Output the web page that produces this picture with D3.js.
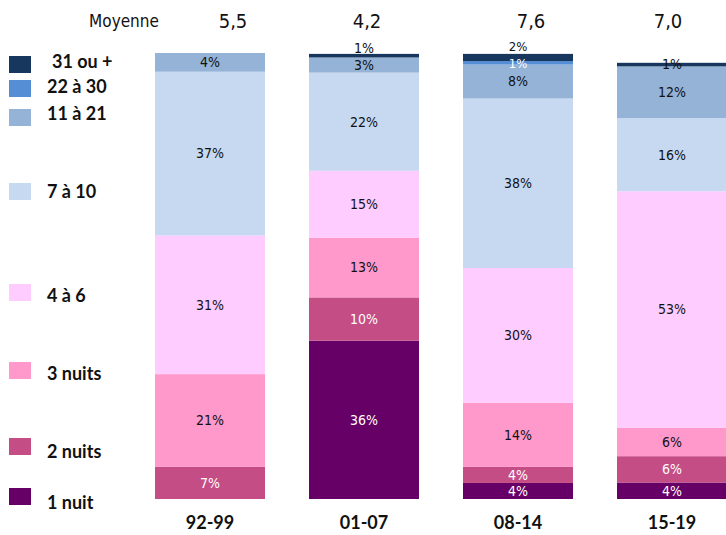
<!DOCTYPE html>
<html><head><meta charset="utf-8">
<script src="https://cdn.jsdelivr.net/npm/d3@7/dist/d3.min.js"></script>
<style>
body{margin:0;background:#fff;}
svg{display:block;}
.cond{font-family:"DejaVu Sans Condensed","DejaVu Sans",sans-serif;font-stretch:condensed;}
.bold{font-family:Lato,"Open Sans",sans-serif;font-weight:bold;}
</style></head>
<body>
<script>
const categories = ["92-99","01-07","08-14","15-19"];
const moyennes = ["5,5","4,2","7,6","7,0"];
const seriesNames = ["1 nuit","2 nuits","3 nuits","4 à 6","7 à 10","11 à 21","22 à 30","31 ou +"];
const seriesColors = ["#660066","#c44d86","#ff99cc","#ffccff","#c6d9f1","#95b3d7","#558ed5","#17375e"];
const v1nuit   = [0, 35.5, 3.6, 3.7];
const v2nuits  = [7.2, 9.7, 3.6, 5.9];
const v3nuits  = [20.8, 13.4, 14.4, 6.4];
const v4a6     = [31.1, 15, 30.2, 53];
const v7a10    = [36.7, 22, 38, 16.4];
const v11a21   = [4.2, 3.4, 7.6, 11.6];
const v22a30   = [0, 0, 0.8, 0];
const v31plus  = [0, 0.8, 1.6, 0.8];
const seriesValues = [v1nuit, v2nuits, v3nuits, v4a6, v7a10, v11a21, v22a30, v31plus];

const W = 726, H = 535;
const svg = d3.select("body").append("svg").attr("width", W).attr("height", H);

const rows = categories.map((c, i) => {
  const r = {cat: c};
  seriesNames.forEach((s, k) => r[s] = seriesValues[k][i]);
  return r;
});
const stack = d3.stack().keys(seriesNames)(rows);

const x = d3.scaleBand().domain(categories).range([133, 749]).paddingInner(0.2857).paddingOuter(0.14285);
const y = d3.scaleLinear().domain([0, 100]).range([499, 53]);

const whiteText = new Set(["1 nuit","2 nuits","22 à 30"]);

stack.forEach((layer, k) => {
  svg.append("g").selectAll("rect").data(layer).join("rect")
    .attr("x", d => x(d.data.cat))
    .attr("width", x.bandwidth())
    .attr("y", d => y(d[1]))
    .attr("height", d => y(d[0]) - y(d[1]))
    .attr("fill", seriesColors[k]);
});

// labels
stack.forEach((layer, k) => {
  const name = seriesNames[k];
  layer.forEach((d, i) => {
    const v = d[1] - d[0];
    if (v <= 0) return;
    let cy = (y(d[0]) + y(d[1])) / 2;
    let fs = 14;
    if (name === "31 ou +" && i === 1) cy = y(d[1]) - 6;
    if (name === "31 ou +" && i === 2) { cy = y(d[1]) - 7; fs = 13; }
    if (name === "22 à 30") { cy += 0.5; fs = 13; }
    svg.append("text").attr("class", "cond")
      .attr("x", x(d.data.cat) + x.bandwidth() / 2)
      .attr("y", cy)
      .attr("dy", "0.35em")
      .attr("text-anchor", "middle")
      .attr("font-size", fs)
      .attr("fill", whiteText.has(name) ? "#fff" : "#111")
      .text(Math.round(v) + "%");
  });
});

// category axis
const xAxis = d3.axisBottom(x).tickSize(0).tickPadding(0);
const ax = svg.append("g").attr("transform", "translate(0,529)").call(xAxis);
ax.select(".domain").remove();
ax.selectAll("text").attr("class", "bold").attr("font-size", 18).attr("fill", "#111").attr("dy", "0");

// moyenne row
svg.append("text").attr("class", "cond").attr("x", 124).attr("y", 27).attr("text-anchor", "middle")
  .attr("font-size", 17).attr("fill", "#111").text("Moyenne");
const moyX = [233, 367, 531, 668];
svg.selectAll(".moy").data(moyennes).join("text").attr("class", "cond moy")
  .attr("x", (d, i) => moyX[i])
  .attr("y", 28).attr("text-anchor", "middle").attr("font-size", 20).attr("fill", "#111").text(d => d);

// legend
const legendTops = [488, 438, 362, 284, 183, 109, 80, 56];
const legendBase = [509, 458, 380, 302, 198, 120, 93, 68];
const leg = svg.append("g");
seriesNames.forEach((s, k) => {
  leg.append("rect").attr("x", 9).attr("y", legendTops[k]).attr("width", 22).attr("height", 17).attr("fill", seriesColors[k]);
  leg.append("text").attr("class", "bold").attr("x", s === "31 ou +" ? 52 : 47).attr("y", legendBase[k])
    .attr("font-size", 18).attr("fill", "#111").text(s);
});
</script>
</body></html>
